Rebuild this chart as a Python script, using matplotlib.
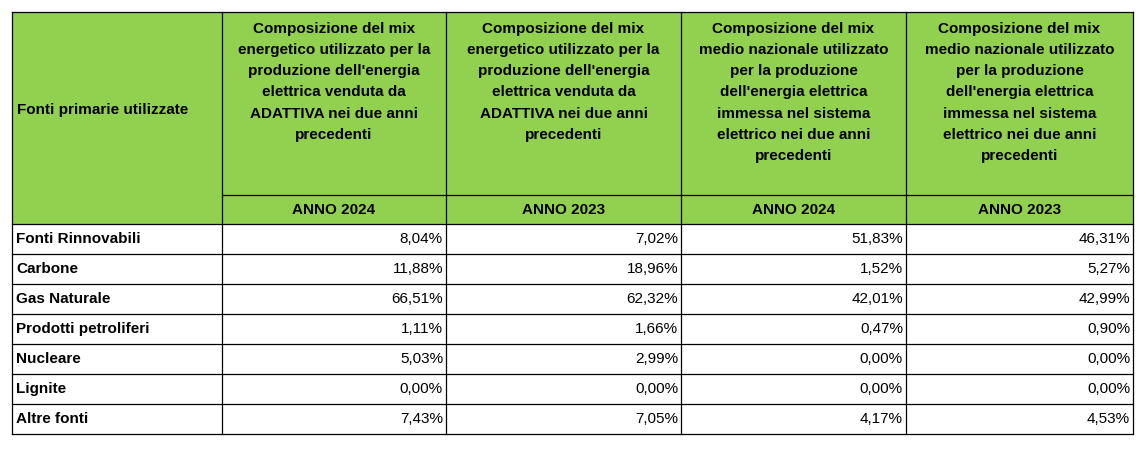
import matplotlib
matplotlib.use("Agg")
import matplotlib.pyplot as plt
from matplotlib.patches import Rectangle

# ---------------------------------------------------------------------------
# Data
# ---------------------------------------------------------------------------
row_header = "Fonti primarie utilizzate"
col_headers = [
    "Composizione del mix\nenergetico utilizzato per la\nproduzione dell'energia\nelettrica venduta da\nADATTIVA nei due anni\nprecedenti",
    "Composizione del mix\nenergetico utilizzato per la\nproduzione dell'energia\nelettrica venduta da\nADATTIVA nei due anni\nprecedenti",
    "Composizione del mix\nmedio nazionale utilizzato\nper la produzione\ndell'energia elettrica\nimmessa nel sistema\nelettrico nei due anni\nprecedenti",
    "Composizione del mix\nmedio nazionale utilizzato\nper la produzione\ndell'energia elettrica\nimmessa nel sistema\nelettrico nei due anni\nprecedenti",
]
years = ["ANNO 2024", "ANNO 2023", "ANNO 2024", "ANNO 2023"]
sources = ["Fonti Rinnovabili", "Carbone", "Gas Naturale", "Prodotti petroliferi",
           "Nucleare", "Lignite", "Altre fonti"]
adattiva_2024 = [8.04, 11.88, 66.51, 1.11, 5.03, 0.00, 7.43]
adattiva_2023 = [7.02, 18.96, 62.32, 1.66, 2.99, 0.00, 7.05]
national_2024 = [51.83, 1.52, 42.01, 0.47, 0.00, 0.00, 4.17]
national_2023 = [46.31, 5.27, 42.99, 0.90, 0.00, 0.00, 4.53]
series = [adattiva_2024, adattiva_2023, national_2024, national_2023]

# ---------------------------------------------------------------------------
# Layout (pixels)
# ---------------------------------------------------------------------------
W, H = 1145, 454
col_x = [12, 222, 446, 681, 906, 1133]
top, head_bot, year_bot, row_h = 12, 195, 224, 30
GREEN = "#92D050"
FONT = "Liberation Sans"
FS = 11

fig = plt.figure(figsize=(W / 100, H / 100), dpi=100)
ax = fig.add_axes([0, 0, 1, 1])
ax.set_xlim(0, W)
ax.set_ylim(H, 0)
ax.axis("off")

# green header background
ax.add_patch(Rectangle((col_x[0], top), col_x[-1] - col_x[0], year_bot - top,
                       facecolor=GREEN, edgecolor="none"))

ax.text(col_x[0] + 5, (top + year_bot) / 2 - 8, row_header, ha="left", va="center",
        fontsize=FS, fontweight="bold", family=FONT)
for i, (hdr, yr) in enumerate(zip(col_headers, years)):
    cx = (col_x[i + 1] + col_x[i + 2]) / 2
    ax.text(cx, top + 10, hdr, ha="center", va="top", fontsize=FS,
            fontweight="bold", family=FONT, linespacing=1.65)
    ax.text(cx, (head_bot + year_bot) / 2, yr, ha="center", va="center",
            fontsize=FS, fontweight="bold", family=FONT)

bottom = year_bot + row_h * len(sources)
for r, name in enumerate(sources):
    yc = year_bot + row_h * (r + 0.5)
    ax.text(col_x[0] + 4, yc, name, ha="left", va="center", fontsize=FS,
            fontweight="bold", family=FONT)
    for c, vals in enumerate(series):
        ax.text(col_x[c + 2] - 3, yc, f"{vals[r]:.2f}%".replace(".", ","),
                ha="right", va="center", fontsize=FS, family=FONT)

# grid lines
lw = 0.9
for x in col_x:
    ax.plot([x, x], [top, bottom], color="black", lw=lw)
ax.plot([col_x[0], col_x[-1]], [top, top], color="black", lw=lw)
ax.plot([col_x[1], col_x[-1]], [head_bot, head_bot], color="black", lw=lw)
for r in range(len(sources) + 1):
    y = year_bot + row_h * r
    ax.plot([col_x[0], col_x[-1]], [y, y], color="black", lw=lw)

fig.savefig("out.png", dpi=100, facecolor="white")
